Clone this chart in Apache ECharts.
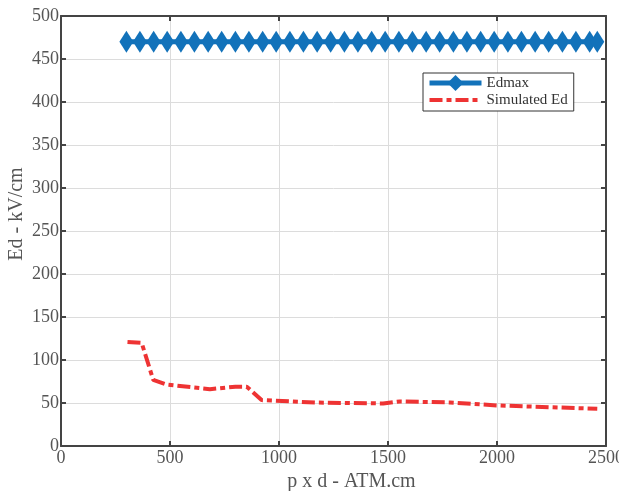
<!DOCTYPE html>
<html><head><meta charset="utf-8">
<script src="https://cdn.jsdelivr.net/npm/echarts@6/dist/echarts.min.js"></script>
<style>html,body{margin:0;padding:0;background:#fff}#c{width:619px;height:491px}</style>
</head><body><div id="c"></div>
<script>
const edmaxX = [300, 362, 425, 487, 550, 612, 675, 737, 800, 862, 925, 987, 1050, 1112, 1175, 1237, 1300, 1362, 1425, 1487, 1550, 1612, 1675, 1737, 1800, 1862, 1925, 1987, 2050, 2112, 2175, 2237, 2300, 2362, 2425, 2460];
const edmaxY = [470, 470, 470, 470, 470, 470, 470, 470, 470, 470, 470, 470, 470, 470, 470, 470, 470, 470, 470, 470, 470, 470, 470, 470, 470, 470, 470, 470, 470, 470, 470, 470, 470, 470, 470, 470];
const simX = [305, 370, 423, 485, 683, 800, 852, 920, 1173, 1478, 1555, 1784, 1998, 2460];
const simY = [121, 120, 77, 71.5, 66, 69, 69, 53.4, 50.5, 49.5, 51.8, 50.7, 47.2, 43.3];
const xTicks = [0, 500, 1000, 1500, 2000, 2500];
const yTicks = [0, 50, 100, 150, 200, 250, 300, 350, 400, 450, 500];

const F = 'Liberation Serif';
const TXT = '#555555';
const AX = '#444444';
const chart = echarts.init(document.getElementById('c'));
const zip = (a, b) => a.map((v, i) => [v, b[i]]);
chart.setOption({
  animation: false,
  grid: {left: 61, right: 13, top: 16, bottom: 45, outerBoundsMode: 'none', containLabel: false},
  graphic: [{
    type: 'text', x: 17, y: 214, rotation: Math.PI / 2,
    style: {text: 'Ed - kV/cm', fontFamily: F, fontSize: 20, fill: TXT, align: 'center', verticalAlign: 'middle'}
  }],
  legend: {
    left: 423, top: 73, orient: 'vertical',
    backgroundColor: '#fff', borderColor: '#333', borderWidth: 1,
    padding: [2, 6, 3, 4], itemGap: 1, itemWidth: 52, itemHeight: 20,
    textStyle: {fontFamily: F, fontSize: 15, color: '#333'},
    data: [
      {name: 'Edmax', lineStyle: {width: 5}},
      {name: 'Simulated Ed', lineStyle: {width: 4}, itemStyle: {opacity: 0}}
    ]
  },
  xAxis: [{
    type: 'value', min: xTicks[0], max: xTicks[xTicks.length - 1], interval: 500,
    name: 'p x d - ATM.cm', nameLocation: 'middle', nameGap: 22,
    nameTextStyle: {fontFamily: F, fontSize: 20, color: TXT, padding: [0, 0, 0, 36]},
    axisLine: {lineStyle: {color: AX, width: 2}},
    axisTick: {inside: true, length: 5, lineStyle: {color: AX, width: 2}},
    axisLabel: {fontFamily: F, fontSize: 18, color: TXT, margin: 3, formatter: v => String(v)},
    splitLine: {show: true, lineStyle: {color: '#dcdcdc', width: 1}}
  }, {
    type: 'value', position: 'top', min: 0, max: 2500, interval: 500,
    axisLine: {show: true, onZero: false, lineStyle: {color: AX, width: 2}},
    axisTick: {show: true, inside: true, length: 5, lineStyle: {color: AX, width: 2}},
    axisLabel: {show: false}, splitLine: {show: false}
  }],
  yAxis: [{
    type: 'value', min: yTicks[0], max: yTicks[yTicks.length - 1], interval: 50,
    axisLine: {show: true, lineStyle: {color: AX, width: 2}},
    axisTick: {show: true, inside: true, length: 5, lineStyle: {color: AX, width: 2}},
    axisLabel: {fontFamily: F, fontSize: 18, color: TXT, margin: 2, formatter: v => String(v)},
    splitLine: {show: true, lineStyle: {color: '#dcdcdc', width: 1}}
  }, {
    type: 'value', position: 'right', min: 0, max: 500, interval: 50,
    axisLine: {show: true, onZero: false, lineStyle: {color: AX, width: 2}},
    axisTick: {show: true, inside: true, length: 5, lineStyle: {color: AX, width: 2}},
    axisLabel: {show: false}, splitLine: {show: false}
  }],
  series: [{
    name: 'Edmax', type: 'line', data: zip(edmaxX, edmaxY),
    symbol: 'diamond', symbolSize: [14, 22], showSymbol: true,
    lineStyle: {color: '#1272ba', width: 5},
    itemStyle: {color: '#1272ba'}
  }, {
    name: 'Simulated Ed', type: 'line', data: zip(simX, simY),
    symbol: 'none',
    lineStyle: {color: '#ee3333', width: 4, type: [13, 4, 5, 4]},
    itemStyle: {color: '#ee3333'}
  }]
});
</script></body></html>
